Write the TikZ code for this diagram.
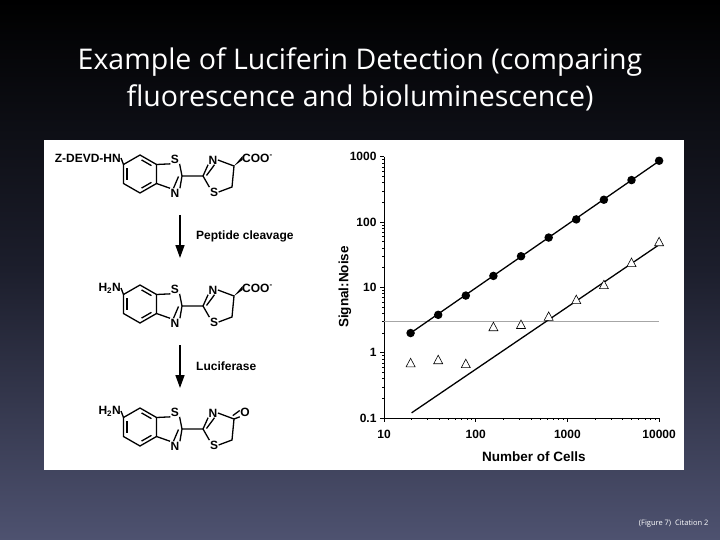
\documentclass[tikz,border=0pt]{standalone}
\usepackage{fontspec}
\setmainfont{Liberation Sans}
\newfontfamily\titlefont{Open Sans}
\usetikzlibrary{arrows.meta,calc}
\definecolor{bgbot}{RGB}{78,82,112}
\definecolor{bgmid}{RGB}{28,30,44}
\tikzset{
  atom/.style={inner sep=0.4pt,font=\fontsize{12}{13}\selectfont\bfseries},
  bond/.style={line width=1.3pt},
  lbl/.style={font=\fontsize{12}{13}\selectfont\bfseries,inner sep=0pt},
  tick/.style={font=\fontsize{12}{13}\selectfont\bfseries},
  ax/.style={line width=0.9pt},
  rxn/.style={line width=1.5pt,-{Triangle[length=13pt,width=9pt]}},
  circ/.style={circle,fill=black,inner sep=0pt,minimum size=8.5pt},
  tri/.style={draw=black,line width=0.6pt,fill=white},
  declare function={px(\v)=384+91.7*(log10(\v)-1); py(\v)=418-65.3*(log10(\v)+1);}
}
\newcommand\lucmol[4]{% #1 name suffix, #2 y shift, #3 left label, #4 right type (1=COO, 0=ketone)
\begin{scope}[yshift=-#2pt]
  \coordinate (t#1) at (140,155); \coordinate (ur#1) at (156.5,164.5);
  \coordinate (lr#1) at (156.5,183.5); \coordinate (b#1) at (140,193);
  \coordinate (ll#1) at (123.5,183.5); \coordinate (ul#1) at (123.5,164.5);
  \draw[bond] (t#1)--(ur#1)--(lr#1)--(b#1)--(ll#1)--(ul#1)--cycle;
  \draw[bond] ($(ul#1)!0.2!(ll#1)+(3.5,0)$)--($(ul#1)!0.8!(ll#1)+(3.5,0)$);
  \draw[bond] ($(t#1)!0.2!(ur#1)+(-1.75,3.03)$)--($(t#1)!0.8!(ur#1)+(-1.75,3.03)$);
  \draw[bond] ($(b#1)!0.2!(lr#1)+(-1.75,-3.03)$)--($(b#1)!0.8!(lr#1)+(-1.75,-3.03)$);
  \node[atom] (s#1) at (175,159) {S};
  \node[atom] (n#1) at (175,193) {N};
  \coordinate (c#1) at (182,176);
  \coordinate (d#1) at (203,176);
  \node[atom] (np#1) at (213,160) {N};
  \node[atom] (sp#1) at (214,192) {S};
  \coordinate (e#1) at (234,166);
  \coordinate (f#1) at (232,187);
  \draw[bond] (ur#1)--(s#1.south west) (s#1.south east)--(c#1)--(n#1.north east) (n#1.north west)--(lr#1);
  \draw[bond] ($(c#1)+(-3.5,0.5)$)--($(n#1.north)+(-1.5,0)$);
  \draw[bond] (c#1)--(d#1)--(np#1.south west) (np#1.east)--(e#1)--(f#1)--(sp#1.east) (sp#1.north west)--(d#1);
  \draw[bond] ($(d#1)+(3.5,-0.5)$)--($(np#1.south)+(1.5,0)$);
  \node[lbl,anchor=east] (L#1) at (121,158) {#3};
  \draw[bond] (L#1.east)--(ul#1);
  \ifnum#4=1
    \node[lbl,anchor=west] (R#1) at (242,158) {COO\textsuperscript{-}};
    \fill (e#1) -- ($(R#1.west)+(0.5,-2)$) -- ($(R#1.west)+(0.5,2)$) -- cycle;
  \else
    \node[atom] (R#1) at (245,159) {O};
    \draw[bond] (e#1)--(R#1.south west);
    \draw[bond] ($(e#1)+(-1.2,-3.4)$)--($(R#1.west)+(0,-1.5)$);
  \fi
\end{scope}}
\begin{document}
\begin{tikzpicture}[x=1pt,y=-1pt]
\shade[top color=black,bottom color=bgbot,middle color=bgmid] (0,0) rectangle (720,540);
\useasboundingbox (0,0) rectangle (720,540);
\node[text=white,font=\titlefont\fontsize{28.5}{37}\selectfont,align=center] (title) at (360,79)
  {Example of Luciferin Detection (comparing\\fluorescence and bioluminescence)};
\fill[white] (44,140) rectangle (684,470);
\lucmol{a}{0}{Z-DEVD-HN}{1}
\lucmol{b}{130}{H\textsubscript{2}N}{1}
\lucmol{c}{253}{H\textsubscript{2}N}{0}
\coordinate (a1) at (180,215); \coordinate (a2) at (180,258);
\draw[rxn] (a1)--(a2);
\node[lbl,anchor=west] (p1) at (196,236) {Peptide cleavage};
\coordinate (a3) at (180,345); \coordinate (a4) at (180,388);
\draw[rxn] (a3)--(a4);
\node[lbl,anchor=west] (p2) at (196,366) {Luciferase};
% plot
\coordinate (o) at (384,418);
\draw[ax] (384,157)--(o)--(659,418);
\foreach \e/\t in {-1/0.1,0/1,1/10,2/100,3/1000}{
  \draw[ax] (384,{418-65.3*(\e+1)})--++(-4,0);
  \node[tick,anchor=east] at (380,{418-65.3*(\e+1)}) {\t};
  \ifnum\e<3 \foreach \m in {2,...,9}{\draw[line width=0.6pt] (384,{418-65.3*(\e+1+log10(\m))})--++(-2.2,0);}\fi
}
\foreach \e/\t in {1/10,2/100,3/1000,4/10000}{
  \draw[ax] ({384+91.7*(\e-1)},418)--++(0,4);
  \node[tick,anchor=north] at ({384+91.7*(\e-1)},427) {\t};
  \ifnum\e<4 \foreach \m in {2,...,9}{\draw[line width=0.6pt] ({384+91.7*(\e-1+log10(\m))},418)--++(0,2.2);}\fi
}
\node[lbl,font=\fontsize{13.5}{15}\selectfont\bfseries,rotate=90] (yl) at (345,287) {Signal:Noise};
\node[lbl,font=\fontsize{13.5}{15}\selectfont\bfseries] (xl) at (534,457) {Number of Cells};
\draw[gray!70,line width=0.8pt] (384,{py(3)})--(659,{py(3)});
\coordinate (u1) at ({px(19.5)},{py(2)}); \coordinate (u2) at ({px(10000)},{py(860)});
\draw[line width=1.3pt] (u1)--(u2);
\coordinate (w1) at ({px(20)},{py(0.12)}); \coordinate (w2) at ({px(10000)},{py(45)});
\draw[line width=1.3pt] (w1)--(w2);
\foreach \x/\y in {19.5/2,39/3.8,78/7.5,156/15,312/30,625/58,1250/110,2500/220,5000/440,10000/870}
  \node[circ] at ({px(\x)},{py(\y)}) {};
\foreach \x/\y in {19.5/0.7,39/0.78,78/0.68,156/2.5,312/2.7,625/3.6,1250/6.5,2500/11,5000/24,10000/50}
  \draw[tri] ({px(\x)-4.5},{py(\y)+4})--({px(\x)+4.5},{py(\y)+4})--({px(\x)},{py(\y)-4.5})--cycle;
\node[text=white,font=\titlefont\fontsize{7.5}{8}\selectfont,anchor=east] (cit) at (712,524) {(Figure 7)\ \ Citation 2};
\end{tikzpicture}
\end{document}
